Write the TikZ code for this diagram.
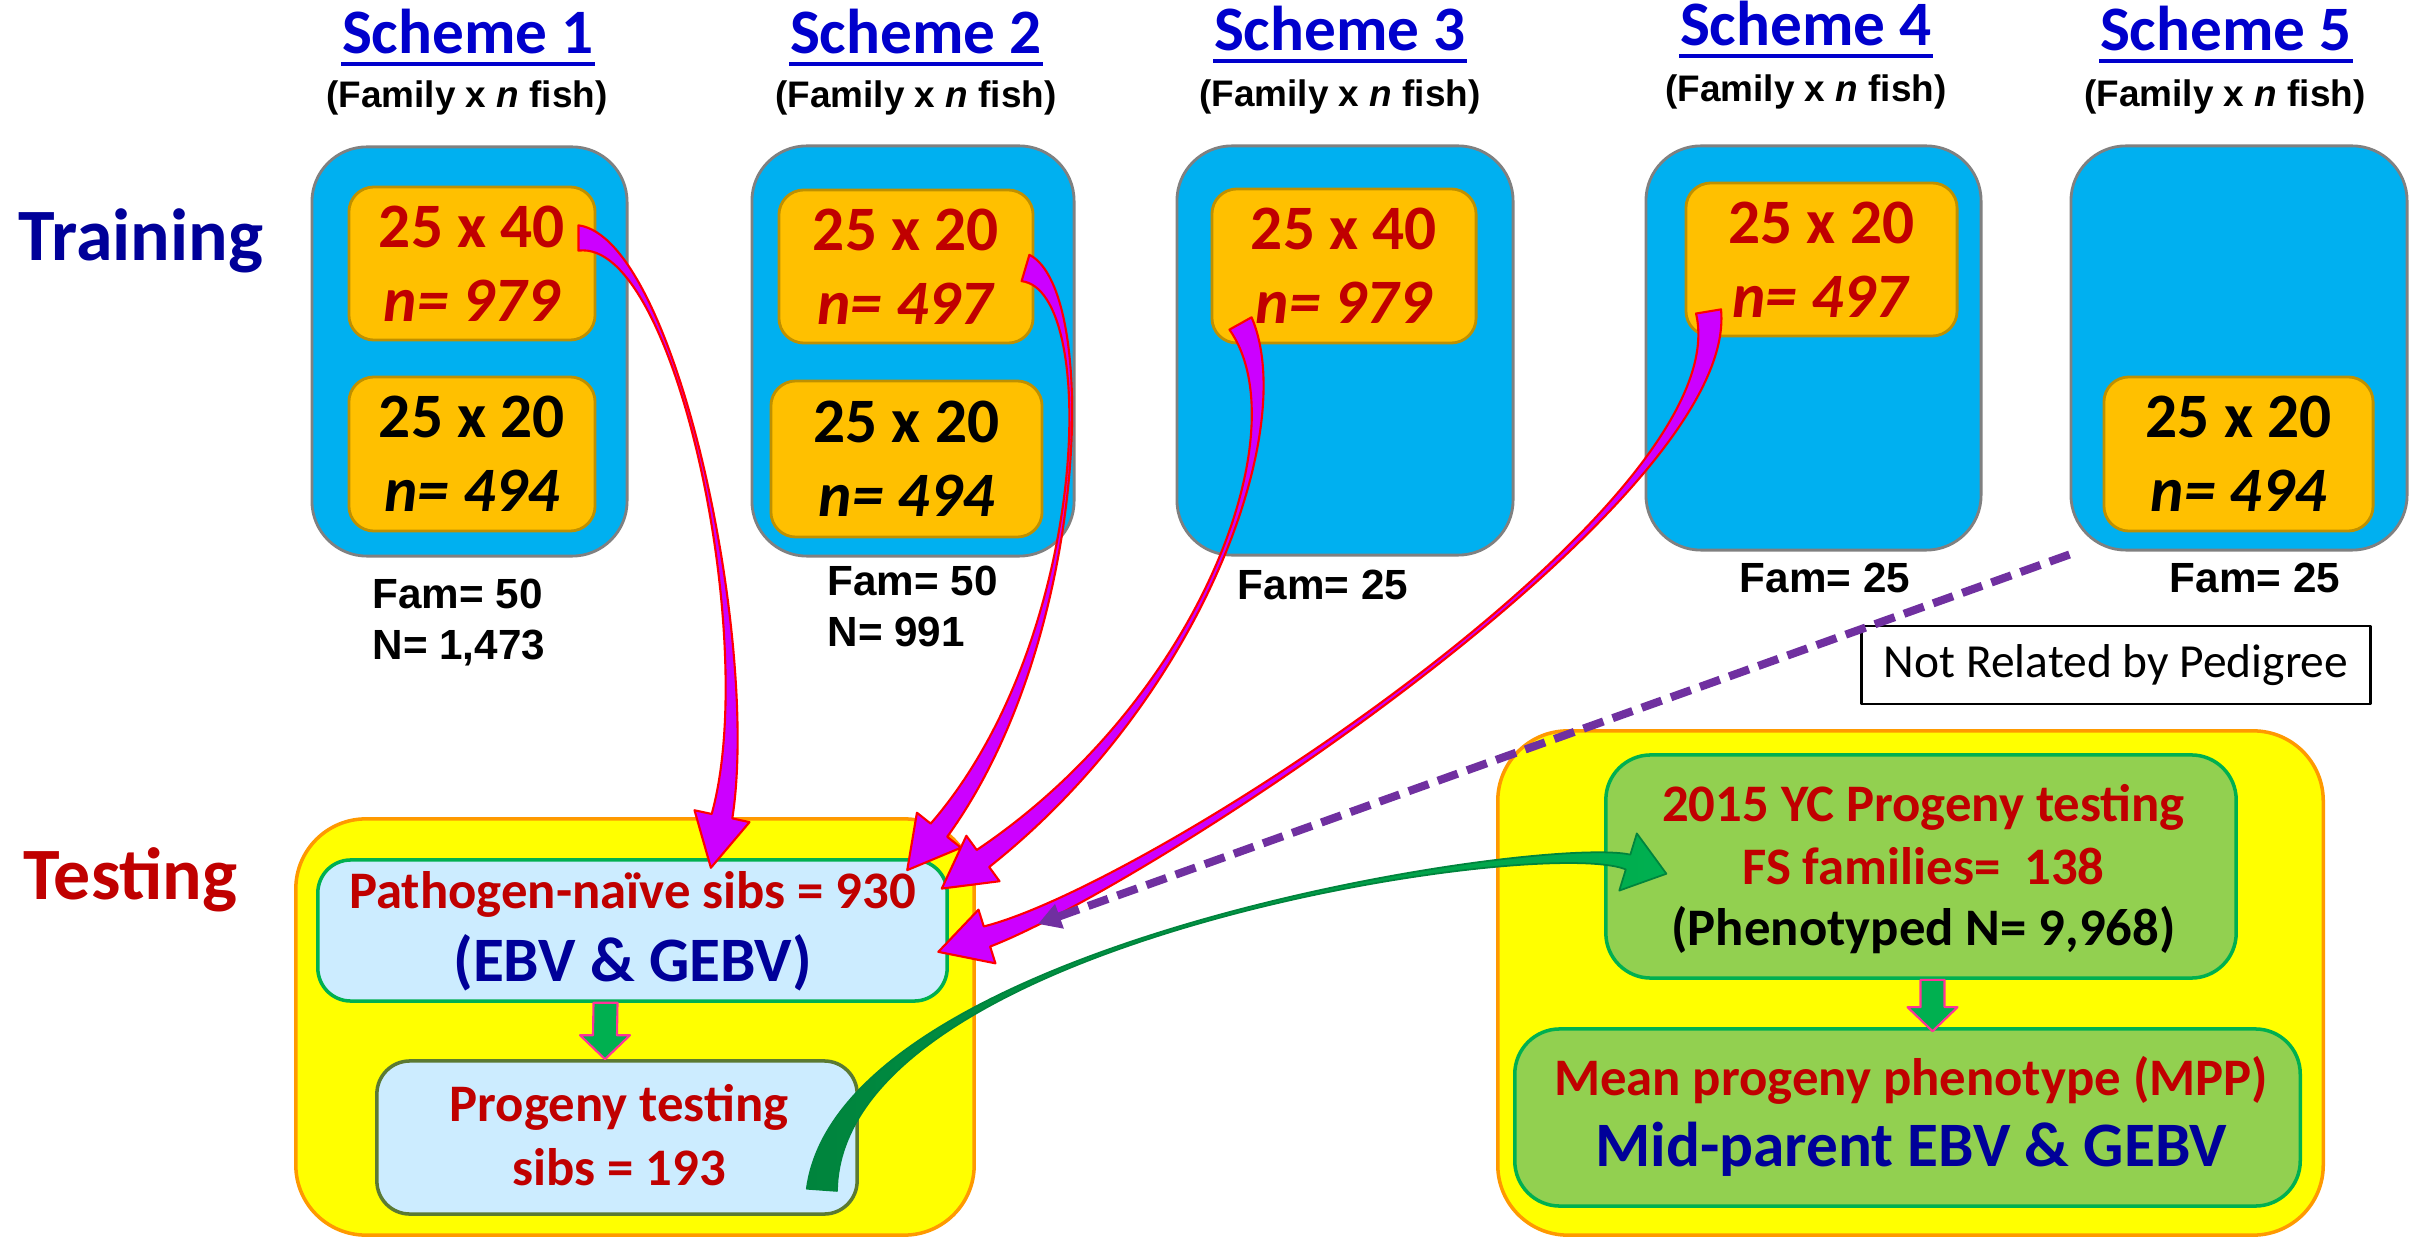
\documentclass[tikz,border=0pt]{standalone}
\usepackage{fontspec}
\setmainfont{Carlito}
\newfontfamily\arialfont{Liberation Sans}
\usetikzlibrary{calc,arrows.meta}

\definecolor{schemeblue}{HTML}{0000CC}
\definecolor{navytxt}{HTML}{000099}
\definecolor{redtxt}{HTML}{C00000}
\definecolor{boxblue}{HTML}{00B0F0}
\definecolor{boxedge}{HTML}{808080}
\definecolor{boxorange}{HTML}{FFC000}
\definecolor{orangeedge}{HTML}{BF9000}
\definecolor{boxyellow}{HTML}{FFFF00}
\definecolor{yellowedge}{HTML}{FF9900}
\definecolor{paleblue}{HTML}{CCECFF}
\definecolor{edgegreen}{HTML}{00B050}
\definecolor{edgeolive}{HTML}{5B7A32}
\definecolor{boxgreen}{HTML}{92D050}
\definecolor{arrowgreen}{HTML}{00B050}
\definecolor{darkgreen}{HTML}{00843D}
\definecolor{pinkedge}{HTML}{FF3399}
\definecolor{arrowmag}{HTML}{CC00FF}
\definecolor{dashpurple}{HTML}{7030A0}

\tikzset{
  schemetitle/.style={font=\fontsize{18}{20}\selectfont\bfseries, text=schemeblue, inner sep=0pt, anchor=base},
  subtitle/.style={font=\arialfont\fontsize{10.5}{12}\selectfont\bfseries, inner sep=0pt, anchor=base},
  rowlabel/.style={font=\fontsize{21}{24}\selectfont\bfseries, inner sep=0pt, anchor=base west},
  schemebox/.style={draw=boxedge, fill=boxblue, line width=0.8pt, rounded corners=0.55cm, inner sep=0pt},
  groupbox/.style={draw=orangeedge, fill=boxorange, line width=0.8pt, rounded corners=0.25cm, inner sep=0pt,
    align=center, font=\fontsize{18}{21}\selectfont\bfseries},
  famlabel/.style={font=\arialfont\fontsize{12}{14}\selectfont\bfseries, inner sep=0pt},
  testbox/.style={draw=yellowedge, fill=boxyellow, line width=1pt, rounded corners=0.7cm, inner sep=0pt},
  sibbox/.style={fill=paleblue, line width=1pt, rounded corners=0.33cm, inner sep=0pt},
  famsbox/.style={fill=boxgreen, draw=edgegreen, line width=1pt, rounded corners=0.45cm, inner sep=0pt},
  boxtext/.style={font=\fontsize{15}{18}\selectfont\bfseries, anchor=base, inner sep=0pt},
  blockarrow/.style={fill=arrowgreen, draw=pinkedge, line width=0.6pt},
  magarrow/.style={fill=arrowmag, draw=red, line width=0.6pt},
  curvegreen/.style={left color=darkgreen, right color=arrowgreen, draw=darkgreen, line width=0.5pt},
  notrelated/.style={draw=dashpurple, line width=2.3pt, dash pattern=on 6pt off 2.8pt,
    -{Triangle[length=6.5pt,width=7pt]}}
}

% #1 style, #2 tail, #3 #4 controls, #5 head base, #6 tail half width, #7 base half width, #8 barb, #9 head length
\newcommand{\bigarrow}[9]{%
  \path[#1] ($(#2)!#6!90:(#3)$) .. controls (#3) and (#4) .. ($(#5)!#7!-90:(#4)$)
    -- ($(#5)!#8!-90:(#4)$) -- ($(#5)!-#9!(#4)$) -- ($(#5)!#8!90:(#4)$)
    -- ($(#5)!#7!90:(#4)$) .. controls (#4) and (#3) .. ($(#2)!#6!-90:(#3)$) -- cycle;}
\newcommand{\blockdown}[2]{%
  \path[blockarrow] ($(#1)+(-12,0)$) -- ($(#1)+(12,0)$) -- ($(#2)+(12,-24)$)
    -- ($(#2)+(25,-24)$) -- (#2) -- ($(#2)+(-25,-24)$) -- ($(#2)+(-12,-24)$) -- cycle;}

\begin{document}
\begin{tikzpicture}[x=0.01cm,y=-0.01cm,line join=round]
\fill[white] (0,0) rectangle (2418,1237);
\useasboundingbox (0,0) rectangle (2418,1237);

\node[schemetitle] (s1) at (468,54) {Scheme 1};
\node[schemetitle] (s2) at (916,54) {Scheme 2};
\node[schemetitle] (s3) at (1340,51) {Scheme 3};
\node[schemetitle] (s4) at (1806,46) {Scheme 4};
\node[schemetitle] (s5) at (2226,51) {Scheme 5};
\draw[schemeblue, line width=1.1pt] ($(s1.base west)+(0,10)$) -- ($(s1.base east)+(0,10)$);
\draw[schemeblue, line width=1.1pt] ($(s2.base west)+(0,10)$) -- ($(s2.base east)+(0,10)$);
\draw[schemeblue, line width=1.1pt] ($(s3.base west)+(0,10)$) -- ($(s3.base east)+(0,10)$);
\draw[schemeblue, line width=1.1pt] ($(s4.base west)+(0,10)$) -- ($(s4.base east)+(0,10)$);
\draw[schemeblue, line width=1.1pt] ($(s5.base west)+(0,10)$) -- ($(s5.base east)+(0,10)$);
\node[subtitle] (f1) at (467,108) {(Family x \textit{n} fish)};
\node[subtitle] (f2) at (916,108) {(Family x \textit{n} fish)};
\node[subtitle] (f3) at (1340,107) {(Family x \textit{n} fish)};
\node[subtitle] (f4) at (1806,102) {(Family x \textit{n} fish)};
\node[subtitle] (f5) at (2225,107) {(Family x \textit{n} fish)};

\node[rowlabel, text=navytxt] (train) at (18,261) {Training};
\node[rowlabel, text=redtxt] (test) at (23,899) {Testing};

\node[schemebox, minimum width=3.15cm, minimum height=4.09cm] (b1) at (469.5,351.5) {};
\node[schemebox, minimum width=3.22cm, minimum height=4.10cm] (b2) at (913,351) {};
\node[schemebox, minimum width=3.36cm, minimum height=4.09cm] (b3) at (1345,350.5) {};
\node[schemebox, minimum width=3.35cm, minimum height=4.04cm] (b4) at (1813.5,348) {};
\node[schemebox, minimum width=3.36cm, minimum height=4.04cm] (b5) at (2239,348) {};

\node[groupbox, text=redtxt, minimum width=2.46cm, minimum height=1.53cm] (o1a) at (472,263.5) {25 x 40\\\textit{n= 979}};
\node[groupbox, minimum width=2.46cm, minimum height=1.54cm] (o1b) at (472,454) {25 x 20\\\textit{n= 494}};
\node[groupbox, text=redtxt, minimum width=2.54cm, minimum height=1.53cm] (o2a) at (906,266.5) {25 x 20\\\textit{n= 497}};
\node[groupbox, minimum width=2.71cm, minimum height=1.56cm] (o2b) at (906.5,459) {25 x 20\\\textit{n= 494}};
\node[groupbox, text=redtxt, minimum width=2.64cm, minimum height=1.54cm] (o3) at (1344,266) {25 x 40\\\textit{n= 979}};
\node[groupbox, text=redtxt, minimum width=2.71cm, minimum height=1.53cm] (o4) at (1821.5,259.5) {25 x 20\\\textit{n= 497}};
\node[groupbox, minimum width=2.69cm, minimum height=1.54cm] (o5) at (2238.5,454) {25 x 20\\\textit{n= 494}};

\node[famlabel, anchor=base west] (fam1) at (372,609) {Fam= 50};
\node[famlabel, anchor=base west] (n1) at (372,660) {N= 1,473};
\node[famlabel, anchor=base west] (fam2) at (827,596) {Fam= 50};
\node[famlabel, anchor=base west] (n2) at (827,647) {N= 991};
\node[famlabel, anchor=base] (fam3) at (1323,600) {Fam= 25};
\node[famlabel, anchor=base] (fam4) at (1825,593) {Fam= 25};
\node[famlabel, anchor=base] (fam5) at (2255,593) {Fam= 25};

\node[testbox, minimum width=6.78cm, minimum height=4.16cm] (yl) at (635,1027) {};
\node[sibbox, draw=edgegreen, minimum width=6.29cm, minimum height=1.41cm] (path) at (632.5,930.5) {};
\node[boxtext, text=redtxt] (pathA) at ($(path.north)+(0,50)$) {Pathogen-naïve sibs = 930};
\node[boxtext, text=navytxt, font=\fontsize{18}{21}\selectfont\bfseries] (pathB) at ($(path.north)+(0,123)$) {(EBV \& GEBV)};
\node[sibbox, draw=edgeolive, minimum width=4.80cm, minimum height=1.53cm] (prog) at (617,1137.5) {};
\node[boxtext, text=redtxt] (progA) at ($(prog.north)+(2,62)$) {Progeny testing};
\node[boxtext, text=redtxt] (progB) at ($(prog.north)+(2,126)$) {sibs = 193};

\node[testbox, minimum width=8.25cm, minimum height=5.04cm] (yr) at (1910.5,983) {};
\node[famsbox, minimum width=6.30cm, minimum height=2.23cm] (yc) at (1921,866.5) {};
\node[boxtext, text=redtxt] (ycA) at ($(yc.north)+(2.5,68)$) {2015 YC Progeny testing};
\node[boxtext, text=redtxt] (ycB) at ($(yc.north)+(2.5,131)$) {FS families=~ 138};
\node[boxtext] (ycC) at ($(yc.north)+(2.5,192)$) {(Phenotyped N= 9,968)};
\node[famsbox, minimum width=7.85cm, minimum height=1.77cm] (mpp) at (1907.5,1117.5) {};
\node[boxtext, text=redtxt] (mppA) at ($(mpp.north)+(3.5,68)$) {Mean progeny phenotype (MPP)};
\node[boxtext, text=navytxt, font=\fontsize{18}{21}\selectfont\bfseries] (mppB) at ($(mpp.north)+(3.5,139)$) {Mid-parent EBV \& GEBV};

\node[draw=black, fill=white, line width=0.8pt, minimum width=5.08cm, minimum height=0.78cm, inner sep=0pt,
  font=\fontsize{13.5}{16}\selectfont] (nrp) at (2116,665) {Not Related by Pedigree};

\coordinate (gAt) at ($(path.south)+(-27,0)$);
\coordinate (gAb) at ($(prog.north)+(-12,0)$);
\blockdown{gAt}{gAb}
\coordinate (gBt) at ($(yc.south)+(11.5,0)$);
\coordinate (gBb) at ($(mpp.north)+(25,4)$);
\blockdown{gBt}{gBb}

\coordinate (a1s) at ($(o1a.east)+(-18,-25.5)$);
\coordinate (a1e) at ($(path.north)+(89.5,-42)$);
\bigarrow{magarrow}{a1s}{675,238}{760,640}{a1e}{3.6pt}{3pt}{8pt}{15pt}
\coordinate (a2s) at ($(o2a.east)+(-9,1.5)$);
\coordinate (a2e) at ($(path.north east)+(-10,-28)$);
\bigarrow{magarrow}{a2s}{1100,290}{1090,640}{a2e}{3.9pt}{3pt}{8pt}{14.5pt}
\coordinate (a3s) at ($(o3.south west)+(30,-21)$);
\coordinate (a3e) at ($(path.east)+(34,-72)$);
\bigarrow{magarrow}{a3s}{1300,430}{1200,700}{a3e}{3.6pt}{3pt}{8pt}{14.5pt}
\coordinate (a4s) at ($(o4.south west)+(24,-26)$);
\coordinate (a4e) at ($(path.east)+(38,6)$);
\bigarrow{magarrow}{a4s}{1740,500}{1150,885}{a4e}{3.6pt}{3pt}{8pt}{14.5pt}

\coordinate (gcs) at ($(prog.south east)+(-37,-26)$);
\coordinate (gce) at ($(yc.west)+(24,-4.5)$);
\bigarrow{curvegreen}{gcs}{840,940}{1540,835}{gce}{4.3pt}{2.2pt}{8.5pt}{11.4pt}

\coordinate (d5) at ($(b5.south west)+(0,3)$);
\coordinate (dend) at ($(path.east)+(89,-6.5)$);
\draw[notrelated] (d5) -- (dend);
\end{tikzpicture}
\end{document}
